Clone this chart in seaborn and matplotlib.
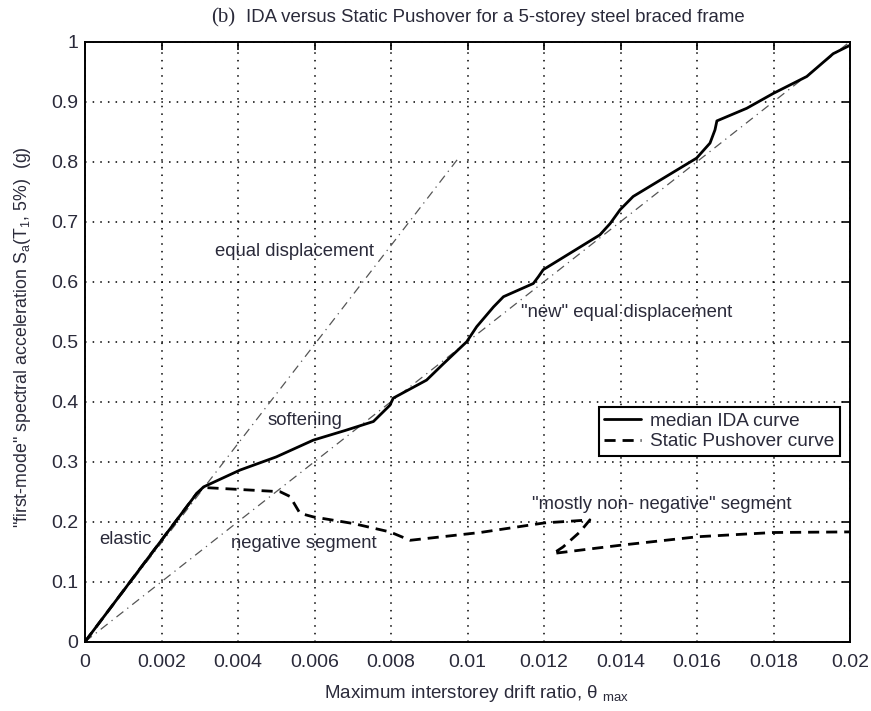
import numpy as np
import pandas as pd
import matplotlib
matplotlib.use("Agg")
import matplotlib.pyplot as plt
import seaborn as sns

# median IDA curve (drift ratio, Sa in g)
ida_drift = [0.0, 0.00292, 0.0031, 0.00405, 0.00500, 0.00597, 0.00680, 0.00754, 0.00797, 0.00806,
             0.00893, 0.00935, 0.00998, 0.01024, 0.01068, 0.01094, 0.01172, 0.01185, 0.01198,
             0.01346, 0.01373, 0.01399, 0.01433, 0.01599, 0.01634, 0.01647, 0.01652, 0.0173,
             0.0180, 0.01887, 0.01956, 0.0200]
ida_sa = [0.0, 0.247, 0.258, 0.286, 0.308, 0.336, 0.352, 0.367, 0.394, 0.406,
          0.436, 0.462, 0.500, 0.525, 0.558, 0.575, 0.597, 0.608, 0.620,
          0.678, 0.697, 0.720, 0.742, 0.806, 0.831, 0.853, 0.868, 0.889,
          0.914, 0.942, 0.980, 0.994]

# static pushover curve (drift ratio, Sa in g)
spo_drift = [0.0, 0.00292, 0.0031, 0.0051, 0.00536, 0.00562, 0.00597, 0.00701, 0.00797, 0.0085,
             0.01033, 0.01201, 0.0132, 0.01294, 0.0125, 0.01224, 0.01338, 0.01403,
             0.01603, 0.0180, 0.0200]
spo_sa = [0.0, 0.247, 0.257, 0.250, 0.242, 0.214, 0.208, 0.197, 0.183, 0.169,
          0.182, 0.198, 0.203, 0.183, 0.158, 0.147, 0.156, 0.161,
          0.175, 0.182, 0.183]

# reference lines: elastic-slope "equal displacement" and "new" equal displacement
eqd_drift = [0.0, 0.0098]
eqd_sa = [0.0, 0.809]
neweqd_drift = [0.0, 0.0200]
neweqd_sa = [0.0, 1.0]

x_ticks = [0, 0.002, 0.004, 0.006, 0.008, 0.01, 0.012, 0.014, 0.016, 0.018, 0.02]
x_ticklabels = ["0", "0.002", "0.004", "0.006", "0.008", "0.01", "0.012", "0.014", "0.016", "0.018", "0.02"]
y_ticks = [0, 0.1, 0.2, 0.3, 0.4, 0.5, 0.6, 0.7, 0.8, 0.9, 1.0]
y_ticklabels = ["0", "0.1", "0.2", "0.3", "0.4", "0.5", "0.6", "0.7", "0.8", "0.9", "1"]

sns.set_theme(style="white")
plt.rcParams["font.family"] = ["Liberation Sans", "DejaVu Sans"]
plt.rcParams["mathtext.fontset"] = "custom"
plt.rcParams["mathtext.rm"] = "Liberation Sans"
plt.rcParams["mathtext.it"] = "Liberation Sans"
txt = "#2a2a3a"

fig = plt.figure(figsize=(8.71, 7.11), dpi=100)
ax = fig.add_axes([85 / 871, 1 - 641.7 / 711, 765 / 871, 600 / 711])

ida = pd.DataFrame({"drift": ida_drift, "sa": ida_sa})
spo = pd.DataFrame({"drift": spo_drift, "sa": spo_sa})
eqd = pd.DataFrame({"drift": eqd_drift, "sa": eqd_sa})
neq = pd.DataFrame({"drift": neweqd_drift, "sa": neweqd_sa})

dashdot = (0, (7, 4, 1, 4))
sns.lineplot(data=eqd, x="drift", y="sa", ax=ax, color="#555555", lw=0.9,
             linestyle=dashdot, sort=False, zorder=2)
sns.lineplot(data=neq, x="drift", y="sa", ax=ax, color="#555555", lw=0.9,
             linestyle=dashdot, sort=False, zorder=2)
sns.lineplot(data=spo, x="drift", y="sa", ax=ax, color="black", lw=2.0,
             linestyle=(0, (4, 2.5)), sort=False, label="Static Pushover curve", zorder=3)
sns.lineplot(data=ida, x="drift", y="sa", ax=ax, color="black", lw=2.0,
             sort=False, label="median IDA curve", zorder=4)

ax.set_xlim(0, 0.02)
ax.set_ylim(0, 1)
ax.set_xticks(x_ticks)
ax.set_xticklabels(x_ticklabels)
ax.set_yticks(y_ticks)
ax.set_yticklabels(y_ticklabels)
ax.tick_params(direction="in", length=6, width=1.2, top=True, right=True,
               labelsize=14, colors="black", labelcolor=txt)
ax.tick_params(axis="x", pad=9)
ax.tick_params(axis="y", pad=5)
ax.grid(True, color="black", linestyle=(0, (1, 4)), linewidth=1.1)
for s in ax.spines.values():
    s.set_color("black")
    s.set_linewidth(1.4)

ax.set_xlabel("Maximum interstorey drift ratio, θ $_{\\rm max}$", fontsize=13.5, color=txt)
ax.xaxis.set_label_coords(0.512, -0.068)
ax.set_ylabel('"first-mode" spectral acceleration S$_{\\rm a}$(T$_{\\rm 1}$, 5%)  (g)',
              fontsize=12.8, color=txt)
ax.yaxis.set_label_coords(-0.068, 0.507)

fig.text(0.569, 0.975, "IDA versus Static Pushover for a 5-storey steel braced frame",
         ha="center", va="center", fontsize=13.4, color=txt)
fig.text(0.2425, 0.975, "(b)", ha="left", va="center", fontsize=15,
         family=["Liberation Serif", "DejaVu Serif"], color=txt)

notes = [
    (0.00549, 0.651, "equal displacement"),
    (0.00575, 0.368, "softening"),
    (0.00105, 0.170, "elastic"),
    (0.00573, 0.163, "negative segment"),
    (0.01417, 0.548, "\"new\" equal displacement"),
    (0.01508, 0.228, "\"mostly non- negative\" segment"),
]
for x, y, t in notes:
    ax.text(x, y, t, ha="center", va="center", fontsize=13.3, color=txt, zorder=5)

handles, labels = ax.get_legend_handles_labels()
order = [labels.index("median IDA curve"), labels.index("Static Pushover curve")]
leg = ax.legend([handles[i] for i in order], [labels[i] for i in order],
                loc="upper right", bbox_to_anchor=(0.987, 0.391), borderaxespad=0,
                fancybox=False, edgecolor="black", framealpha=1, fontsize=13.7,
                handlelength=1.9, handletextpad=0.5, borderpad=0.3, labelspacing=0.15)
leg.get_frame().set_linewidth(1.5)
for t in leg.get_texts():
    t.set_color(txt)

fig.savefig("out.png", dpi=100, facecolor="white")
